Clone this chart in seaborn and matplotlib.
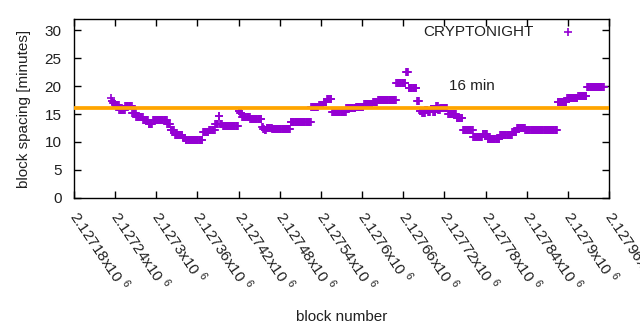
import numpy as np
import pandas as pd
import matplotlib
matplotlib.use("Agg")
import matplotlib.pyplot as plt
import seaborn as sns

# ---- data (runs of constant block spacing) ----
run_start = [2127234, 2127235, 2127237, 2127240, 2127246, 2127255, 2127265, 2127271,
             2127281, 2127289, 2127295, 2127316, 2127321, 2127327, 2127339, 2127343,
             2127368, 2127377, 2127386, 2127391, 2127393, 2127397, 2127420, 2127422,
             2127425, 2127437, 2127454, 2127456, 2127458, 2127461, 2127469, 2127496,
             2127526, 2127537, 2127544, 2127549, 2127556, 2127577, 2127591, 2127603,
             2127616, 2127623, 2127650, 2127664, 2127668, 2127680, 2127684, 2127688,
             2127692, 2127696, 2127700, 2127704, 2127708, 2127711, 2127714, 2127725,
             2127738, 2127747, 2127762, 2127776, 2127783, 2127801, 2127819, 2127826,
             2127838, 2127885, 2127899, 2127915, 2127928]
run_value = [17.8, 17.4, 17.0, 16.7, 15.7, 16.4, 15.2, 14.4,
             14.0, 13.3, 14.0, 13.2, 12.2, 11.3, 10.7, 10.3,
             11.7, 12.2, 13.3, 14.6, 13.3, 12.8, 15.5, 15.2,
             14.5, 14.2, 12.7, 12.4, 12.2, 12.5, 12.3, 13.5,
             16.3, 16.7, 17.2, 17.7, 15.3, 16.0, 16.3, 16.8,
             17.2, 17.6, 20.5, 22.5, 19.6, 17.4, 15.6, 15.2,
             15.8, 15.3, 15.9, 15.4, 16.4, 15.8, 16.1, 15.0,
             14.3, 12.1, 10.8, 11.4, 10.6, 11.3, 11.8, 12.5,
             12.2, 17.2, 17.9, 18.3, 19.8]
last_block = 2127953
target_minutes = 16
x_ticks = list(range(2127180, 2127961, 60))
y_ticks = [0, 5, 10, 15, 20, 25, 30]
series_name = "CRYPTONIGHT"

# expand runs into one point per block
run_len = np.diff(run_start + [last_block])
blocks = np.arange(run_start[0], last_block)
spacing = np.repeat(run_value, run_len)
df = pd.DataFrame({"block": blocks, "spacing": spacing})

sns.set_theme(style="white")
plt.rcParams["font.family"] = ["Liberation Sans", "DejaVu Sans"]
plt.rcParams["mathtext.fontset"] = "custom"
plt.rcParams["mathtext.rm"] = "Liberation Sans"

fig = plt.figure(figsize=(6.4, 3.3), dpi=100)
ax = fig.add_axes([0.1156, 0.401, 0.836, 0.5405])

purple = "#9400D3"
orange = "#FFA500"

sns.scatterplot(data=df, x="block", y="spacing", ax=ax, marker="+", s=34,
                linewidth=1.2, color=purple, label=series_name, zorder=2)
ax.axhline(target_minutes, color=orange, lw=2.7, zorder=3)
ax.text(2127727, 20.1, f"{target_minutes} min", fontsize=11, color="#202020",
        ha="left", va="center")

ax.set_xlim(x_ticks[0], x_ticks[-1])
ax.set_ylim(0, 32)
ax.set_yticks(y_ticks)
ax.set_xticks(x_ticks)
labels = []
for t in x_ticks:
    s = f"{t/1e6:.5f}".rstrip("0").rstrip(".")
    labels.append(s + "x10 $^{6}$")
ax.set_xticklabels(labels, rotation=-56, ha="left", va="center",
                   rotation_mode="anchor", fontsize=11, color="#202020")
ax.set_yticklabels([str(v) for v in y_ticks], fontsize=11, color="#202020")

ax.tick_params(axis="both", direction="in", length=5, width=1, color="black",
               top=True, right=True, bottom=True, left=True)
ax.tick_params(axis="y", pad=9)
ax.tick_params(axis="x", pad=11)
for sp in ax.spines.values():
    sp.set_color("black")
    sp.set_linewidth(1)

ax.set_xlabel("block number", fontsize=11, color="#202020")
ax.set_ylabel("block spacing [minutes]", fontsize=11, color="#202020", labelpad=10)
ax.xaxis.set_label_coords(0.5, -0.63)

leg = ax.legend(loc="upper right", bbox_to_anchor=(0.955, 1.02), frameon=False,
                markerfirst=False, fontsize=11, handlelength=1.0,
                handletextpad=1.75, borderaxespad=0.2, markerscale=0.9)
for t in leg.get_texts():
    t.set_color("#202020")

fig.savefig("out.png", dpi=100)
